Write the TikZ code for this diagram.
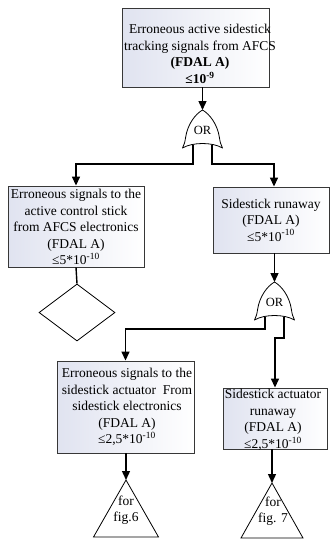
\documentclass[tikz,border=0pt]{standalone}
\usepackage{fontspec}
\setmainfont{Liberation Serif}
\usetikzlibrary{arrows.meta,shapes.geometric}
\definecolor{boxedge}{RGB}{55,55,55}
\definecolor{boxtint}{RGB}{224,227,240}

\tikzset{
  evbox/.style={draw=boxedge, line width=0.9pt, left color=boxtint, right color=white,
    inner sep=0pt, rectangle},
  evtext/.style={align=center, inner sep=0pt, font=\fontsize{13.5}{16.5}\selectfont},
  conn/.style={draw=black, line width=1.4pt, -{Triangle[length=9pt,width=8pt]}},
  plain/.style={draw=black, line width=1.4pt},
  outline/.style={draw=black, line width=0.8pt, fill=white},
  gatetext/.style={font=\fontsize{12.5}{14}\selectfont, inner sep=0pt},
  pics/orgate/.style={code={
    \path[outline, line join=round]
      (0,0) .. controls (7,4) and (15,14) .. (17,28)
            .. controls (17.5,32) and (18.5,35) .. (20,38)
            .. controls (10,32) and (-10,32) .. (-20,38)
            .. controls (-18.5,35) and (-17.5,32) .. (-17,28)
            .. controls (-15,14) and (-7,4) .. cycle;
    \node[gatetext] at (0,20) {OR};
    \coordinate (-tip) at (0,0);
    \coordinate (-l) at (-9.5,34.5);
    \coordinate (-r) at (9.5,34.5);
  }}
}

\begin{document}
\begin{tikzpicture}[x=1pt,y=-1pt]
  \useasboundingbox (0,0) rectangle (330,539);

  % event boxes
  \node[evbox, minimum width=147pt, minimum height=79pt] (top) at (195.5,47.5) {};
  \node[evtext] (toptext) at (200,54) {Erroneous active sidestick\\tracking signals from AFCS\\\textbf{(FDAL A)}\\\textbf{≤10\textsuperscript{-9}}};

  \node[evbox, minimum width=136pt, minimum height=81pt] (lbox) at (76,226.5) {};
  \node[evtext] (ltext) at (76,227) {Erroneous signals to the\\active control stick\\from AFCS electronics\\(FDAL A)\\≤5*10\textsuperscript{-10}};

  \node[evbox, minimum width=116pt, minimum height=66pt] (rbox) at (271,220) {};
  \node[evtext] (rtext) at (271,220) {Sidestick runaway\\(FDAL A)\\≤5*10\textsuperscript{-10}};

  \node[evbox, minimum width=137pt, minimum height=92pt] (llbox) at (125.5,407) {};
  \node[evtext] (lltext) at (127,407) {Erroneous signals to the\\sidestick actuator\ \ From\\sidestick electronics\\(FDAL A)\\≤2,5*10\textsuperscript{-10}};

  \node[evbox, minimum width=104pt, minimum height=61pt] (rlbox) at (275,418.5) {};
  \node[evtext] (rltext) at (273,420) {Sidestick actuator\\runaway\\(FDAL A)\\≤2,5*10\textsuperscript{-10}};

  % OR gates
  \pic (g1) at (202.5,110) {orgate};
  \pic (g2) at (274.5,282) {orgate};

  % undeveloped event and transfer triangles
  \node[outline, diamond, minimum width=76pt, minimum height=57pt, inner sep=0pt] (dia) at (77,312.5) {};

  \coordinate (t1) at (126,480);
  \path[outline] (t1) -- ++(32.5,57) -- ++(-65,0) -- cycle;
  \node[evtext] (t1text) at (126,510) {for\\fig.6};

  \coordinate (t2) at (272,483);
  \path[outline] (t2) -- ++(31,55) -- ++(-62,0) -- cycle;
  \node[evtext] (t2text) at (273,511) {for\\fig. 7};

  % connectors
  \draw[conn] (top.south -| g1-tip) -- (g1-tip);
  \draw[conn] (g1-l) -- ++(0,19.5) -| (lbox.north);
  \draw[conn] (g1-r) -- ++(0,19.5) -| ([xshift=3pt]rbox.north);
  \draw[plain] (lbox.south) -- (dia.north);
  \draw[conn] (rbox.south -| g2-tip) -- (g2-tip);
  \draw[conn] (g2-l) -- ++(0,12.5) -| (llbox.north);
  \draw[conn] (g2-r) -- ++(0,21.5) -| (rlbox.north);
  \draw[conn] (llbox.south -| t1) -- (t1);
  \draw[conn] (rlbox.south -| t2) -- (t2);
\end{tikzpicture}
\end{document}
